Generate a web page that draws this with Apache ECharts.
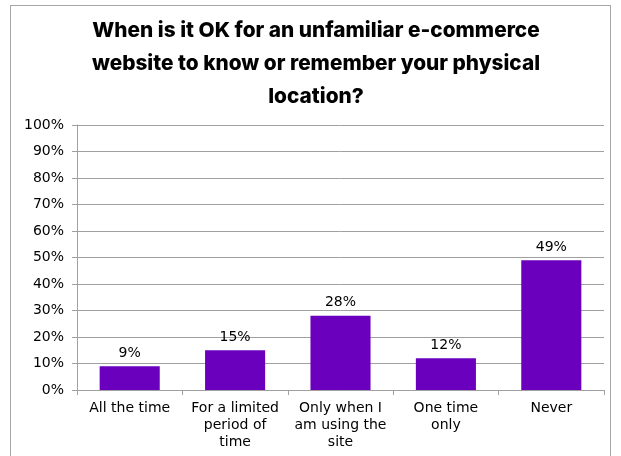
<!DOCTYPE html>
<html>
<head>
<meta charset="utf-8">
<script src="https://cdn.jsdelivr.net/npm/echarts@6/dist/echarts.min.js"></script>
<style>
  html, body { margin: 0; padding: 0; background: #ffffff; }
  #frame { position: absolute; left: 10px; top: 5px; width: 601px; height: 460px; border: 1px solid #a6a6a6; box-sizing: border-box; }
  #chart { width: 621px; height: 456px; position: absolute; left: 0; top: 0; }
</style>
</head>
<body>
<div id="frame"></div>
<div id="chart"></div>
<script>
const categories = ['All the time', 'For a limited\nperiod of\ntime', 'Only when I\nam using the\nsite', 'One time\nonly', 'Never'];
const shares = [9, 15, 28, 12, 49];
const titleText = 'When is it OK for an unfamiliar e-commerce\nwebsite to know or remember your physical\nlocation?';

const chart = echarts.init(document.getElementById('chart'), null, { renderer: 'canvas' });
const labelFont = '"DejaVu Sans", sans-serif';

chart.setOption({
  animation: false,
  title: {
    text: titleText,
    left: 316,
    textAlign: 'center',
    top: 14,
    padding: 0,
    textStyle: {
      fontFamily: 'Inter, "Open Sans", sans-serif',
      fontWeight: 800,
      fontSize: 20.8,
      lineHeight: 33,
      color: '#000000'
    }
  },
  grid: { left: 77, right: 17, top: 125, bottom: 66, containLabel: false },
  xAxis: {
    type: 'category',
    data: categories,
    axisLine: { lineStyle: { color: '#a0a0a0', width: 1 } },
    axisTick: { show: true, length: 5, lineStyle: { color: '#a0a0a0' } },
    axisLabel: {
      interval: 0,
      color: '#000000',
      fontFamily: labelFont,
      fontSize: 14,
      lineHeight: 17,
      margin: 10
    }
  },
  yAxis: {
    type: 'value',
    min: 0,
    max: 100,
    interval: 10,
    axisLine: { show: true, lineStyle: { color: '#a0a0a0' } },
    axisTick: { show: true, length: 5, lineStyle: { color: '#a0a0a0' } },
    splitLine: { lineStyle: { color: '#a0a0a0', width: 1 } },
    axisLabel: {
      formatter: '{value}%',
      color: '#000000',
      fontFamily: labelFont,
      fontSize: 14,
      margin: 13
    }
  },
  series: [{
    type: 'bar',
    data: shares,
    barWidth: '57%',
    itemStyle: { color: '#6a00bd' },
    label: {
      show: true,
      position: 'top',
      distance: 6,
      formatter: '{c}%',
      color: '#000000',
      fontFamily: labelFont,
      fontSize: 14
    }
  }]
});
</script>
</body>
</html>
